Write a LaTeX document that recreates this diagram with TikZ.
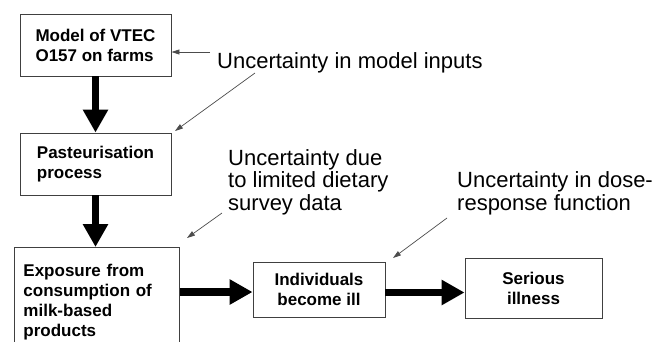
\documentclass[tikz,border=0pt]{standalone}
\usepackage{fontspec}
\setmainfont{Liberation Sans}
\usetikzlibrary{arrows.meta}
\begin{document}
\begin{tikzpicture}[x=1pt,y=-1pt,
  box/.style={draw=black!75, line width=0.9pt, inner sep=0pt, font=\fontsize{17}{20}\selectfont\bfseries},
  thickarrow/.style={line width=7.5pt, -{Triangle[length=23pt,width=24pt]}},
  notearrow/.style={draw=black!70, line width=0.7pt, -{Triangle[length=8pt,width=5pt]}},
  note/.style={font=\fontsize{22}{22.5}\selectfont, inner sep=0pt, align=left, anchor=base west}]
\useasboundingbox (0,0) rectangle (653,341);
\fill[white] (0,0) rectangle (653,341);
\clip (0,0) rectangle (653,341);
% boxes
\node[box, minimum width=151pt, minimum height=62pt, align=left] (b1) at (95.5,45) {Model of VTEC\\O157 on farms};
\node[box, minimum width=151pt, minimum height=62pt, align=left] (b2) at (95.5,164) {Pasteurisation\\process};
\node[box, anchor=north west, minimum width=165pt, text width=147pt, inner xsep=9pt, inner ysep=16.5pt, align=left] (b3) at (14,247) {Exposure from\\consumption of\\milk-based\\products};
\node[box, minimum width=132pt, minimum height=55pt, align=center] (b4) at (319,289.5) {Individuals\\become ill};
\node[box, minimum width=137pt, minimum height=60pt, align=center] (b5) at (533.5,288) {Serious\\illness};
% thick arrows
\draw[thickarrow] (b1.south) -- (b2.north);
\draw[thickarrow] (b2.south) -- (b2.south |- b3.north);
\draw[thickarrow] ([yshift=-2.5pt]b4.west -| b3.east) -- ([yshift=-2.5pt]b4.west);
\draw[thickarrow] ([yshift=-3pt]b4.east) -- ([yshift=-3pt]b4.east -| b5.west);
% notes
\node[note] (n1) at (217,68) {Uncertainty in model inputs};
\node[note] (n2) at (228,210) {Uncertainty due\\to limited dietary\\survey data};
\node[note] (n3) at (457,210) {Uncertainty in dose-\\response function};
% note arrows
\coordinate (t1) at (210,52);
\coordinate (t2) at (255,73);
\coordinate (h2) at (175,131);
\coordinate (t3) at (222,213);
\coordinate (h3) at (187,238);
\coordinate (t4) at (447,218);
\coordinate (h4) at (393,258);
\draw[notearrow] (t1) -- (b1.east |- t1);
\draw[notearrow] (t2) -- (h2);
\draw[notearrow] (t3) -- (h3);
\draw[notearrow] (t4) -- (h4);
\end{tikzpicture}
\end{document}
